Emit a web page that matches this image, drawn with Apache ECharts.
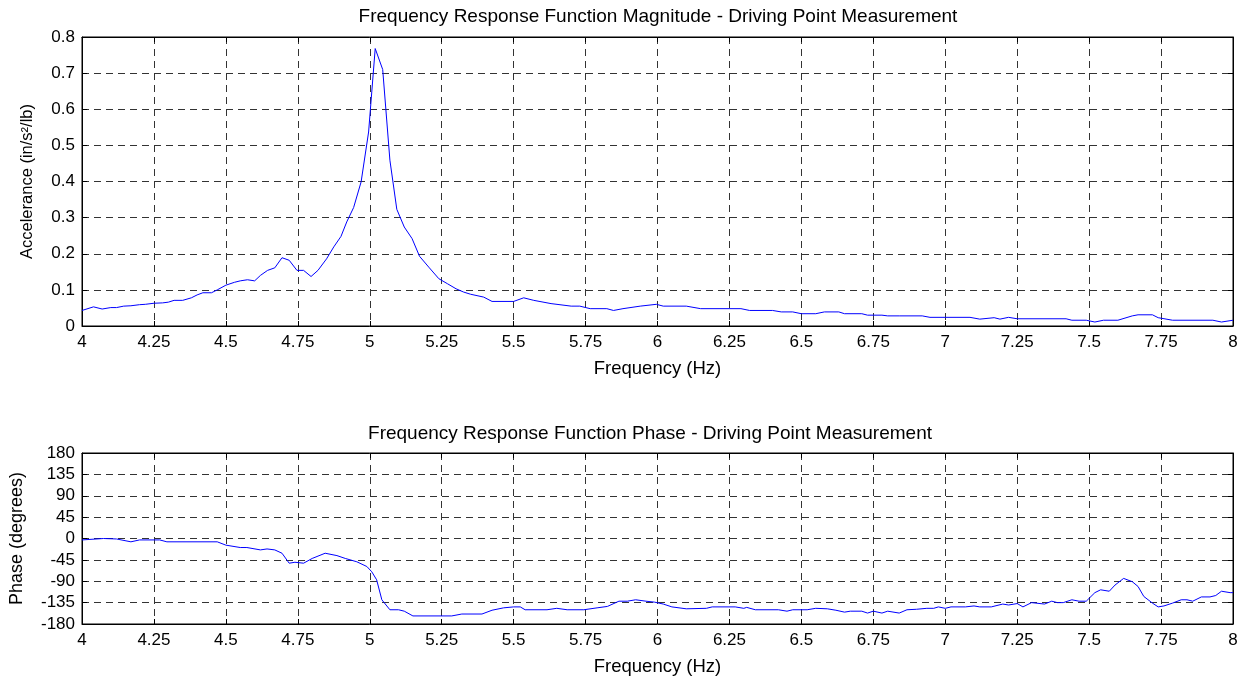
<!DOCTYPE html>
<html>
<head>
<meta charset="utf-8">
<title>Frequency Response Function - Driving Point Measurement</title>
<script src="https://cdn.jsdelivr.net/npm/echarts@6/dist/echarts.min.js"></script>
<style>
  html, body { margin: 0; padding: 0; background: #fff; }
  #main { width: 1247px; height: 679px; }
</style>
</head>
<body>
<div id="main"></div>
<script>
// magnitude curve (Hz, in/s^2/lb)
var magFreq = [4.00, 4.04, 4.07, 4.10, 4.12, 4.145, 4.17, 4.20, 4.22, 4.25, 4.28, 4.30, 4.32, 4.35, 4.38, 4.40,
  4.42, 4.45, 4.47, 4.50, 4.53, 4.55, 4.575, 4.60, 4.62, 4.645, 4.67, 4.695, 4.72, 4.747, 4.77, 4.796,
  4.82, 4.85, 4.875, 4.90, 4.92, 4.944, 4.97, 4.996, 5.019, 5.045, 5.07, 5.094, 5.12, 5.147, 5.173, 5.205,
  5.24, 5.27, 5.30, 5.326, 5.35, 5.396, 5.425, 5.50, 5.535, 5.57, 5.63, 5.70, 5.73, 5.766, 5.824, 5.847,
  5.88, 5.94, 5.996, 6.02, 6.10, 6.15, 6.29, 6.32, 6.40, 6.43, 6.47, 6.50, 6.55, 6.58, 6.63, 6.65,
  6.71, 6.73, 6.78, 6.80, 6.84, 6.92, 6.947, 7.086, 7.12, 7.17, 7.19, 7.22, 7.25, 7.42, 7.44, 7.49,
  7.52, 7.55, 7.60, 7.65, 7.67, 7.72, 7.74, 7.79, 7.93, 7.96, 8.00];
var magValues = [0.043, 0.053, 0.047, 0.051, 0.051, 0.055, 0.056, 0.059, 0.060, 0.063, 0.064, 0.066, 0.071, 0.071, 0.078, 0.086,
  0.092, 0.092, 0.100, 0.113, 0.121, 0.125, 0.128, 0.125, 0.140, 0.154, 0.161, 0.189, 0.182, 0.154, 0.154, 0.137,
  0.154, 0.186, 0.219, 0.248, 0.288, 0.328, 0.399, 0.537, 0.768, 0.710, 0.459, 0.323, 0.274, 0.242, 0.193, 0.163,
  0.131, 0.117, 0.103, 0.094, 0.088, 0.080, 0.068, 0.068, 0.078, 0.071, 0.062, 0.055, 0.055, 0.048, 0.048, 0.043,
  0.048, 0.055, 0.060, 0.055, 0.055, 0.048, 0.048, 0.043, 0.043, 0.039, 0.039, 0.034, 0.034, 0.039, 0.039, 0.034,
  0.034, 0.030, 0.030, 0.028, 0.028, 0.028, 0.024, 0.024, 0.019, 0.023, 0.019, 0.024, 0.020, 0.020, 0.016, 0.016,
  0.011, 0.016, 0.016, 0.028, 0.031, 0.031, 0.023, 0.016, 0.016, 0.011, 0.016];

// phase curve (Hz, degrees)
var phaseFreq = [4.00, 4.075, 4.12, 4.17, 4.20, 4.27, 4.295, 4.47, 4.50, 4.55, 4.573, 4.62, 4.643, 4.67, 4.695, 4.72,
  4.74, 4.77, 4.80, 4.845, 4.886, 4.915, 4.955, 4.99, 5.007, 5.024, 5.042, 5.07, 5.10, 5.12, 5.15, 5.285,
  5.32, 5.39, 5.425, 5.465, 5.50, 5.523, 5.54, 5.616, 5.65, 5.686, 5.744, 5.79, 5.826, 5.866, 5.895, 5.924,
  5.96, 5.99, 6.02, 6.05, 6.10, 6.17, 6.19, 6.27, 6.30, 6.31, 6.34, 6.42, 6.45, 6.47, 6.52, 6.55,
  6.59, 6.62, 6.65, 6.67, 6.71, 6.73, 6.75, 6.78, 6.80, 6.84, 6.867, 6.90, 6.936, 6.96, 6.976, 7.00,
  7.02, 7.07, 7.10, 7.12, 7.16, 7.20, 7.22, 7.25, 7.27, 7.30, 7.345, 7.37, 7.39, 7.41, 7.44, 7.465,
  7.49, 7.52, 7.54, 7.57, 7.59, 7.62, 7.65, 7.67, 7.69, 7.72, 7.74, 7.76, 7.79, 7.82, 7.84, 7.86,
  7.89, 7.92, 7.94, 7.96, 7.99, 8.00];
var phaseValues = [-3, 0, -1, -7, -3, -3, -7, -7, -14, -19, -19, -24, -22, -24, -31, -52,
  -50, -52, -42, -31, -36, -42, -49, -59, -70, -87, -129, -150, -150, -153, -163, -163,
  -159, -159, -151, -146, -144, -144, -150, -150, -147, -150, -150, -146, -143, -132, -132, -129,
  -132, -134, -138, -144, -148, -147, -144, -144, -147, -145, -150, -150, -153, -150, -150, -147,
  -148, -151, -155, -153, -153, -157, -153, -157, -153, -157, -150, -149, -147, -147, -144, -147,
  -144, -144, -142, -144, -144, -138, -140, -137, -144, -135, -138, -132, -135, -135, -129, -132,
  -132, -114, -108, -111, -98, -84, -91, -101, -122, -136, -144, -142, -136, -129, -129, -132,
  -123, -123, -120, -111, -114, -114];

// axis ranges / tick steps
var freqRange = [4, 8, 0.25];
var magRange = [0, 0.8, 0.1];
var phaseRange = [-180, 180, 45];

var font = "'Liberation Sans', Arial, Helvetica, sans-serif";

function pairs(xs, ys) {
  return xs.map(function (x, i) { return [x, ys[i]]; });
}

function textStyle(size) {
  return { color: '#000', fontSize: size, fontFamily: font, fontWeight: 'normal' };
}

var dash = { color: '#333', width: 1, type: [7, 5] };

// main axis carries labels + grid, the twin one only draws the inner ticks on the opposite side
function xAxis(g, main) {
  return {
    type: 'value', gridIndex: g, position: main ? 'bottom' : 'top',
    min: freqRange[0], max: freqRange[1], interval: freqRange[2],
    axisLine: { show: true, onZero: false, lineStyle: { color: '#000', width: 1 } },
    axisTick: { show: true, inside: true, length: 5, lineStyle: { color: '#000' } },
    axisLabel: Object.assign({ show: main, margin: 8 }, textStyle(17)),
    splitLine: { show: main, lineStyle: dash },
    name: main ? 'Frequency (Hz)' : '',
    nameLocation: 'middle', nameGap: 33,
    nameTextStyle: textStyle(18.5)
  };
}

function yAxis(g, range, name, gap, size, main) {
  return {
    type: 'value', gridIndex: g, position: main ? 'left' : 'right',
    min: range[0], max: range[1], interval: range[2],
    axisLine: { show: true, onZero: false, lineStyle: { color: '#000', width: 1 } },
    axisTick: { show: true, inside: true, length: 5, lineStyle: { color: '#000' } },
    axisLabel: Object.assign({ show: main, margin: 7 }, textStyle(17)),
    splitLine: { show: main, lineStyle: dash },
    name: main ? name : '',
    nameLocation: 'middle', nameGap: gap,
    nameTextStyle: textStyle(size)
  };
}

var chart = echarts.init(document.getElementById('main'));
chart.setOption({
  animation: false,
  backgroundColor: '#fff',
  title: [
    { text: 'Frequency Response Function Magnitude - Driving Point Measurement',
      left: 653, top: 2, textAlign: 'center', textStyle: textStyle(19) },
    { text: 'Frequency Response Function Phase - Driving Point Measurement',
      left: 645, top: 419, textAlign: 'center', textStyle: textStyle(19) }
  ],
  grid: [
    { left: 82, top: 37, width: 1151, height: 289, show: true, borderColor: '#000', borderWidth: 1, backgroundColor: '#fff' },
    { left: 82, top: 453, width: 1151, height: 171, show: true, borderColor: '#000', borderWidth: 1, backgroundColor: '#fff' }
  ],
  xAxis: [xAxis(0, true), xAxis(0, false), xAxis(1, true), xAxis(1, false)],
  yAxis: [
    yAxis(0, magRange, 'Accelerance (in/s²/lb)', 46, 16.5, true),
    yAxis(0, magRange, '', 0, 16.5, false),
    yAxis(1, phaseRange, 'Phase (degrees)', 56, 18, true),
    yAxis(1, phaseRange, '', 0, 18, false)
  ],
  series: [
    { name: 'Magnitude', type: 'line', xAxisIndex: 0, yAxisIndex: 0, showSymbol: false,
      lineStyle: { color: '#0000ff', width: 1 }, data: pairs(magFreq, magValues) },
    { name: 'Phase', type: 'line', xAxisIndex: 2, yAxisIndex: 2, showSymbol: false,
      lineStyle: { color: '#0000ff', width: 1 }, data: pairs(phaseFreq, phaseValues) }
  ]
});
</script>
</body>
</html>
